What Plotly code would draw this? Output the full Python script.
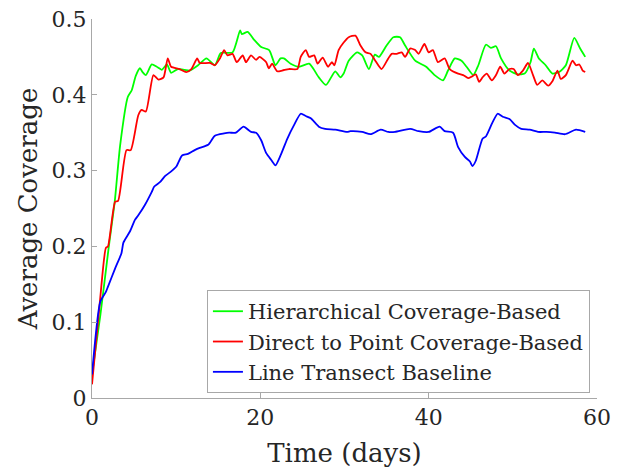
import plotly.graph_objects as go

# Hierarchical Coverage-Based
hier_days = [0, 1.0, 2.0, 2.7, 3.34, 4.25, 4.72, 5.2, 5.7, 6.0, 6.4, 7.1, 7.7, 8.3, 8.9, 9.4, 10.2, 11.0, 11.6, 12.6,
             13.6, 14.6, 15.3, 16.7, 17.6, 17.8, 18.5, 19.3, 20.1, 21.05, 21.8, 22.4, 22.8, 23.6, 24.6, 25.8, 26.95,
             27.8, 28.9, 29.5, 29.9, 30.5, 31.5, 32.1, 32.9, 33.6, 34.1, 35.0, 35.8, 36.6, 37.2, 38.4, 39.7, 40.7,
             41.7, 42.3, 43.1, 43.9, 44.5, 45.3, 45.9, 46.8, 47.4, 48.0, 48.6, 49.6, 50.6, 51.4, 52.1, 52.5, 53.1,
             53.9, 54.7, 55.5, 56.3, 57.3, 58.0, 58.6]
hier_vals = [0.031, 0.11, 0.2, 0.259, 0.333, 0.397, 0.406, 0.425, 0.435, 0.43, 0.426, 0.44, 0.437, 0.433, 0.44,
             0.429, 0.434, 0.433, 0.432, 0.439, 0.448, 0.439, 0.455, 0.456, 0.485, 0.48, 0.483, 0.472, 0.463, 0.459,
             0.439, 0.448, 0.448, 0.441, 0.437, 0.441, 0.423, 0.413, 0.431, 0.423, 0.428, 0.445, 0.456, 0.452, 0.434,
             0.453, 0.45, 0.465, 0.476, 0.476, 0.465, 0.445, 0.437, 0.426, 0.419, 0.432, 0.448, 0.445, 0.437, 0.426,
             0.439, 0.466, 0.462, 0.464, 0.448, 0.432, 0.427, 0.428, 0.443, 0.461, 0.448, 0.439, 0.428, 0.43, 0.439,
             0.475, 0.461, 0.45]

# Direct to Point Coverage-Based
direct_days = [0, 0.98, 1.65, 1.9, 2.75, 3.1, 4.1, 4.6, 5.5, 5.9, 6.4, 7.3, 7.9, 8.5, 9.0, 9.4, 10.4, 11.2, 11.8,
               12.5, 12.8, 14.0, 14.6, 15.2, 15.7, 16.1, 16.7, 17.2, 17.9, 18.3, 18.9, 19.5, 19.9, 20.7, 21.0, 21.4,
               22.0, 22.6, 23.4, 24.4, 24.8, 25.4, 25.8, 26.4, 26.8, 27.4, 28.05, 28.5, 28.8, 29.3, 29.9, 30.5, 31.3,
               31.9, 32.5, 33.1, 33.6, 34.4, 35.2, 35.6, 36.2, 36.8, 37.2, 37.8, 38.4, 38.8, 39.5, 40.0, 40.5, 41.1,
               41.9, 42.5, 43.5, 44.1, 44.7, 45.1, 45.6, 46.0, 46.4, 46.9, 47.5, 48.0, 48.5, 49.0, 49.6, 50.1, 50.6,
               51.2, 51.8, 52.4, 52.9, 53.5, 54.2, 54.7, 55.3, 55.7, 56.3, 57.1, 57.5, 57.9, 58.3, 58.6]
direct_vals = [0.018, 0.132, 0.198, 0.2, 0.259, 0.26, 0.327, 0.327, 0.373, 0.38, 0.378, 0.426, 0.42, 0.423, 0.448,
               0.437, 0.434, 0.43, 0.434, 0.448, 0.442, 0.442, 0.439, 0.448, 0.459, 0.452, 0.454, 0.443, 0.452, 0.443,
               0.452, 0.446, 0.45, 0.443, 0.435, 0.441, 0.431, 0.432, 0.434, 0.434, 0.45, 0.459, 0.45, 0.452, 0.441,
               0.449, 0.437, 0.443, 0.439, 0.459, 0.469, 0.476, 0.478, 0.465, 0.456, 0.454, 0.446, 0.434, 0.448, 0.454,
               0.454, 0.456, 0.45, 0.461, 0.459, 0.454, 0.467, 0.456, 0.459, 0.443, 0.448, 0.434, 0.428, 0.426, 0.422,
               0.424, 0.427, 0.417, 0.423, 0.428, 0.419, 0.426, 0.437, 0.428, 0.434, 0.434, 0.426, 0.432, 0.442,
               0.426, 0.413, 0.419, 0.412, 0.418, 0.432, 0.421, 0.426, 0.445, 0.439, 0.44, 0.432, 0.43]

# Line Transect Baseline
line_days = [0, 0.98, 1.65, 1.9, 2.75, 3.5, 3.73, 4.52, 5.1, 5.5, 6.3, 7.1, 7.4, 8.1, 8.7, 9.3, 10.0, 10.7, 11.4,
             12.2, 12.8, 13.8, 14.6, 15.7, 16.3, 17.1, 18.0, 18.9, 19.5, 20.1, 20.7, 21.3, 21.8, 22.4, 23.2, 24.0,
             24.8, 25.4, 26.0, 26.95, 27.7, 28.9, 30.3, 30.7, 32.1, 33.1, 34.3, 35.2, 36.0, 37.8, 38.8, 40.0, 41.3,
             41.9, 42.9, 43.5, 44.3, 44.9, 45.2, 45.6, 46.4, 46.8, 47.6, 48.2, 48.8, 49.6, 50.3, 51.0, 52.0, 53.0,
             54.0, 55.0, 56.2, 57.5, 58.6]
line_vals = [0.031, 0.127, 0.14, 0.147, 0.171, 0.191, 0.205, 0.22, 0.235, 0.241, 0.255, 0.272, 0.279, 0.285, 0.293,
             0.298, 0.305, 0.32, 0.322, 0.327, 0.33, 0.334, 0.346, 0.349, 0.35, 0.35, 0.358, 0.351, 0.35, 0.34,
             0.323, 0.314, 0.307, 0.32, 0.342, 0.36, 0.375, 0.372, 0.369, 0.358, 0.355, 0.354, 0.351, 0.352, 0.351,
             0.348, 0.354, 0.351, 0.351, 0.355, 0.352, 0.351, 0.358, 0.352, 0.35, 0.331, 0.318, 0.312, 0.306, 0.313,
             0.342, 0.345, 0.364, 0.375, 0.371, 0.368, 0.36, 0.355, 0.354, 0.351, 0.351, 0.35, 0.348, 0.354, 0.351]

x_ticks = [0, 20, 40, 60]
y_ticks = [0, 0.1, 0.2, 0.3, 0.4, 0.5]

FONT = "DejaVu Serif"
TXT = "#262626"
AX = "#a8a8a8"

fig = go.Figure()
for name, xs, ys, col in [
    ("Hierarchical Coverage-Based", hier_days, hier_vals, "#00ff00"),
    ("Direct to Point Coverage-Based", direct_days, direct_vals, "#ff0000"),
    ("Line Transect Baseline", line_days, line_vals, "#0000ff"),
]:
    fig.add_trace(go.Scatter(x=xs, y=ys, mode="lines", name=name,
                             line=dict(color=col, width=1.8, shape="spline", smoothing=0.6)))

# the page body adds an 8px offset, so the figure is sized to the remaining window area
fig.update_layout(
    width=615, height=468,
    margin=dict(l=84, r=26, t=11, b=78),
    paper_bgcolor="white", plot_bgcolor="white",
    font=dict(family=FONT, color=TXT, size=22),
    showlegend=True,
    legend=dict(x=0.986, y=0.013, xanchor="right", yanchor="bottom",
                bgcolor="white", bordercolor=AX, borderwidth=1,
                font=dict(family=FONT, size=21, color=TXT),
                tracegroupgap=0, itemwidth=30),
)
fig.update_xaxes(range=[0, 60], tickvals=x_ticks, ticktext=[str(v) for v in x_ticks],
                 showgrid=False, zeroline=False, showline=True, linecolor=AX, linewidth=1,
                 ticks="inside", ticklen=5, tickcolor=AX, automargin=False,
                 ticklabeloverflow="allow",
                 tickfont=dict(size=22, family=FONT, color=TXT),
                 title=dict(text="Time (days)", font=dict(size=26, family=FONT, color=TXT), standoff=14))
fig.update_yaxes(range=[0, 0.5], tickvals=y_ticks, ticktext=["0", "0.1", "0.2", "0.3", "0.4", "0.5"],
                 showgrid=False, zeroline=False, showline=True, linecolor=AX, linewidth=1,
                 ticks="inside", ticklen=5, tickcolor=AX, automargin=False,
                 ticklabeloverflow="allow",
                 tickfont=dict(size=22, family=FONT, color=TXT),
                 title=dict(text="Average Coverage", font=dict(size=26, family=FONT, color=TXT), standoff=6))

fig.write_html("out.html")
